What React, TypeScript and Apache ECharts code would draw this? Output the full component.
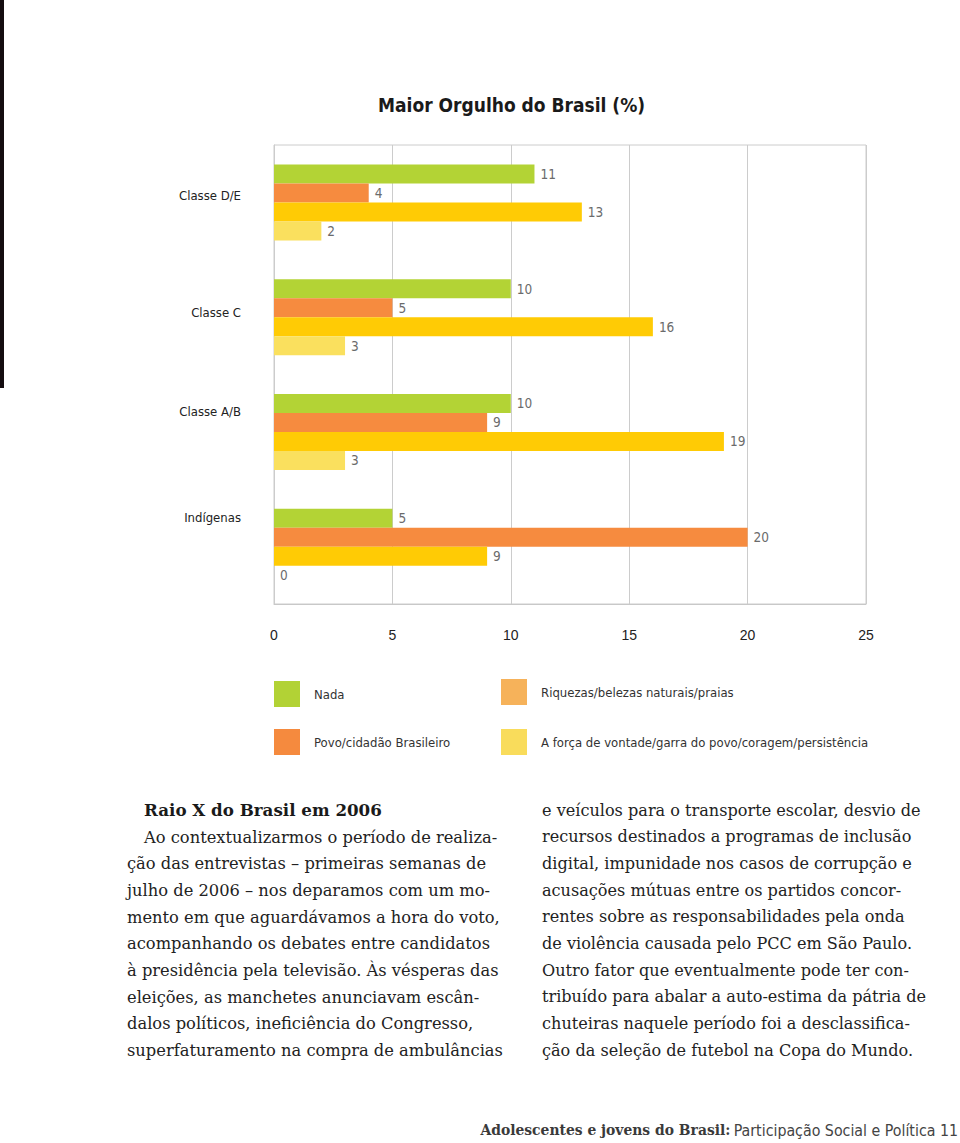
import React, { useEffect, useRef } from "react";
import * as echarts from "echarts";

const categories = ["Classe D/E", "Classe C", "Classe A/B", "Indígenas"];
const seriesNames = [
  "Nada",
  "Povo/cidadão Brasileiro",
  "Riquezas/belezas naturais/praias",
  "A força de vontade/garra do povo/coragem/persistência",
];
const nada = [11, 10, 10, 5];
const povo = [4, 5, 9, 20];
const riquezas = [13, 16, 19, 9];
const forca = [2, 3, 3, 0];
const xTicks = [0, 5, 10, 15, 20, 25];

const barColors = ["#B3D335", "#F68B3F", "#FFCB05", "#FAE05E"];
const legendColors = ["#B2D235", "#F58A3E", "#F6B25A", "#F9DC5B"];

const heading = "Raio X do Brasil em 2006";
const leftLines = [
  "Ao contextualizarmos o período de realiza-",
  "ção das entrevistas – primeiras semanas de",
  "julho de 2006 – nos deparamos com um mo-",
  "mento em que aguardávamos a hora do voto,",
  "acompanhando os debates entre candidatos",
  "à presidência pela televisão. Às vésperas das",
  "eleições, as manchetes anunciavam escân-",
  "dalos políticos, ineficiência do Congresso,",
  "superfaturamento na compra de ambulâncias",
];
const rightLines = [
  "e veículos para o transporte escolar, desvio de",
  "recursos destinados a programas de inclusão",
  "digital, impunidade nos casos de corrupção e",
  "acusações mútuas entre os partidos concor-",
  "rentes sobre as responsabilidades pela onda",
  "de violência causada pelo PCC em São Paulo.",
  "Outro fator que eventualmente pode ter con-",
  "tribuído para abalar a auto-estima da pátria de",
  "chuteiras naquele período foi a desclassifica-",
  "ção da seleção de futebol na Copa do Mundo.",
];

const condensed = "'DejaVu Sans Condensed', 'Liberation Sans Narrow', sans-serif";
const serif = "'DejaVu Serif', serif";

export default function App() {
  const ref = useRef<HTMLDivElement>(null);
  useEffect(() => {
    if (!ref.current) return;
    const chart = echarts.init(ref.current, null, { renderer: "svg" });
    const values = [nada, povo, riquezas, forca];
    const labelShift = [14, 10, 40, 58];
    const rich: any = {};
    labelShift.forEach((l, i) => {
      rich["c" + i] = { lineHeight: l, fontSize: 13, fontFamily: condensed, color: "#222" };
    });
    const lineH = 26.7;
    const graphics: any[] = [
      { type: "rect", shape: { x: 0, y: 0, width: 4, height: 388 }, style: { fill: "#140d10" } },
      {
        type: "text",
        x: 144,
        y: 810,
        style: { text: heading, font: "bold 16.7px " + serif, fill: "#1a1a1a", textVerticalAlign: "middle" },
      },
    ];
    leftLines.forEach((t, i) => {
      graphics.push({
        type: "text",
        x: i === 0 ? 144 : 127,
        y: 837 + i * lineH,
        style: { text: t, font: "16.3px " + serif, fill: "#222", textVerticalAlign: "middle" },
      });
    });
    rightLines.forEach((t, i) => {
      graphics.push({
        type: "text",
        x: 542,
        y: 810 + i * lineH,
        style: { text: t, font: "16.1px " + serif, fill: "#222", textVerticalAlign: "middle" },
      });
    });
    graphics.push({
      type: "text",
      x: 958,
      y: 1130,
      style: {
        text: "{b|Adolescentes e jovens do Brasil:} {r|Participação Social e Política 11}",
        textAlign: "right",
        textVerticalAlign: "middle",
        rich: {
          b: { font: "bold 13.9px " + serif, fill: "#3a3a3a" },
          r: { font: "15.8px " + condensed, fill: "#444" },
        },
      },
    });

    chart.setOption({
      animation: false,
      backgroundColor: "#ffffff",
      title: {
        text: "Maior Orgulho do Brasil (%)",
        left: 373,
        top: 90,
        textStyle: { fontFamily: condensed, fontWeight: "bold", fontSize: 19, color: "#1a1a1a" },
      },
      grid: {
        left: 274,
        right: 94,
        top: 145,
        bottom: 539,
        show: true,
        borderColor: "#cccccc",
        borderWidth: 1,
      },
      xAxis: {
        type: "value",
        min: 0,
        max: 25,
        interval: 5,
        axisLine: { show: true, lineStyle: { color: "#c8c8c8" } },
        axisTick: { show: false },
        splitLine: { show: true, lineStyle: { color: "#cccccc" } },
        axisLabel: {
          margin: 24,
          fontSize: 14,
          fontFamily: "'Liberation Sans', sans-serif",
          color: "#222",
          formatter: (v: number) => (xTicks.includes(v) ? String(v) : ""),
        },
      },
      yAxis: {
        type: "category",
        data: categories,
        inverse: true,
        axisLine: { show: true, lineStyle: { color: "#cccccc" } },
        axisTick: { show: false },
        splitLine: { show: false },
        axisLabel: {
          margin: 33,
          formatter: (v: string, i: number) => `{c${i}|${v}}\n{c${i}| }`,
          rich,
        },
      },
      legend: [
        {
          orient: "vertical",
          left: 274,
          top: 681,
          padding: 0,
          itemWidth: 26,
          itemHeight: 26,
          itemGap: 22,
          icon: "rect",
          textStyle: { fontFamily: condensed, fontSize: 13, color: "#333", padding: [0, 0, 0, 9] },
          data: [0, 1].map((k) => ({ name: seriesNames[k], itemStyle: { color: legendColors[k] } })),
        },
        {
          orient: "vertical",
          left: 501,
          top: 679,
          padding: 0,
          itemWidth: 26,
          itemHeight: 26,
          itemGap: 24,
          icon: "rect",
          textStyle: { fontFamily: condensed, fontSize: 13, color: "#333", padding: [0, 0, 0, 9] },
          data: [2, 3].map((k) => ({ name: seriesNames[k], itemStyle: { color: legendColors[k] } })),
        },
      ],
      series: values.map((vals, k) => ({
        type: "bar",
        name: seriesNames[k],
        data: vals,
        barWidth: 19,
        barGap: "0%",
        itemStyle: { color: barColors[k] },
        label: {
          show: true,
          position: "right",
          distance: 6,
          fontFamily: condensed,
          fontSize: 13.5,
          color: "#6b6b6b",
        },
      })),
      graphic: graphics,
    });
    return () => chart.dispose();
  }, []);
  return (
    <div
      ref={ref}
      style={{ position: "absolute", left: 0, top: 0, width: 960, height: 1143 }}
    />
  );
}
